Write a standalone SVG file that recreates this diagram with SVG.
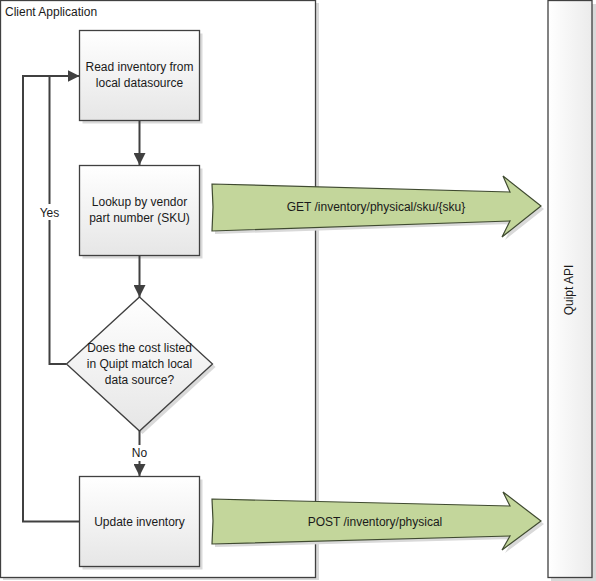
<svg xmlns="http://www.w3.org/2000/svg" width="596" height="581" viewBox="0 0 596 581">
<style>
text{font-family:"Liberation Sans",Arial,sans-serif;font-size:12px;fill:#1a1a1a}
.c{text-anchor:middle}
.box{stroke:#404040;stroke-width:1.3;fill:url(#g)}
.sh{fill:#d9d9d9}
.ln{stroke:#404040;stroke-width:2;fill:none}
.api{fill:#c3d69b;stroke:#3f4a30;stroke-width:1.2;stroke-linejoin:miter}
</style>
<defs>
<linearGradient id="g" x1="0" y1="0" x2="0" y2="1">
<stop offset="0" stop-color="#ffffff"/>
<stop offset="1" stop-color="#e6e6e6"/>
</linearGradient>
<linearGradient id="gh" x1="0" y1="0" x2="1" y2="0">
<stop offset="0" stop-color="#ffffff"/>
<stop offset="1" stop-color="#ebebeb"/>
</linearGradient>
<marker id="ah" viewBox="0 0 10 10" refX="10" refY="5" markerWidth="6" markerHeight="6" markerUnits="strokeWidth" orient="auto">
<path d="M0,0 L10,5 L0,10 z" fill="#404040"/>
</marker>
</defs>

<g id="client-application">
<rect class="sh" x="3" y="3" width="316" height="577"/>
<rect x="0.5" y="0.5" width="315" height="577" fill="#ffffff" stroke="#404040" stroke-width="1.3"/>
<text x="5" y="16">Client Application</text>
</g>

<g id="quipt-api">
<rect class="sh" x="551" y="4" width="45" height="577"/>
<rect x="548" y="0.5" width="44" height="577" fill="url(#gh)" stroke="#404040" stroke-width="1.3"/>
<text class="c" transform="translate(573,290) rotate(-90)">Quipt API</text>
</g>

<g id="read-inventory">
<rect class="sh" x="82.5" y="33.5" width="120" height="90"/>
<rect class="box" x="79.5" y="30.5" width="120" height="90"/>
<text class="c" x="139.5" y="71">Read inventory from</text>
<text class="c" x="139.5" y="87">local datasource</text>
</g>

<g id="lookup">
<rect class="sh" x="82.5" y="168.5" width="120" height="90"/>
<rect class="box" x="79.5" y="165.5" width="120" height="90"/>
<text class="c" x="139.5" y="206">Lookup by vendor</text>
<text class="c" x="139.5" y="222">part number (SKU)</text>
</g>

<g id="decision">
<polygon class="sh" points="142.5,300 215.5,367 142.5,434 69.5,367"/>
<polygon class="box" points="139.5,297 212.5,364 139.5,431 66.5,364"/>
<text class="c" x="139.5" y="352">Does the cost listed</text>
<text class="c" x="139.5" y="368">in Quipt match local</text>
<text class="c" x="139.5" y="384">data source?</text>
</g>

<g id="update-inventory">
<rect class="sh" x="82.5" y="479.5" width="120" height="90"/>
<rect class="box" x="79.5" y="476.5" width="120" height="90"/>
<text class="c" x="139.5" y="526">Update inventory</text>
</g>

<g id="get-request">
<polygon class="sh" points="215,187 513,195 506,179 544,209 505,240 513,224 215,234"/>
<polygon class="api" points="212,184 510,192 503,176 541,206 502,237 510,221 212,231 213,207"/>
<text class="c" x="376" y="211">GET /inventory/physical/sku/{sku}</text>
</g>

<g id="post-request">
<polygon class="sh" points="215,502 513,509 506,495 544,524 505,553 513,539 215,547"/>
<polygon class="api" points="212,499 510,506 503,492 541,521 502,550 510,536 212,544 213,521"/>
<text class="c" x="375" y="526">POST /inventory/physical</text>
</g>

<g id="connectors">
<line class="ln" x1="139.5" y1="121" x2="139.5" y2="165" marker-end="url(#ah)"/>
<line class="ln" x1="139.5" y1="256" x2="139.5" y2="297" marker-end="url(#ah)"/>
<line class="ln" x1="139.5" y1="431" x2="139.5" y2="476" marker-end="url(#ah)"/>
<polyline class="ln" points="66.5,364 49.5,364 49.5,76 79.5,76" marker-end="url(#ah)"/>
<polyline class="ln" points="79.5,521.5 23,521.5 23,76 50,76"/>
<rect x="37" y="204" width="26" height="16" fill="#ffffff"/>
<text class="c" x="49.5" y="217">Yes</text>
<rect x="128" y="445" width="23" height="16" fill="#ffffff"/>
<text class="c" x="139.5" y="457">No</text>
</g>
</svg>
